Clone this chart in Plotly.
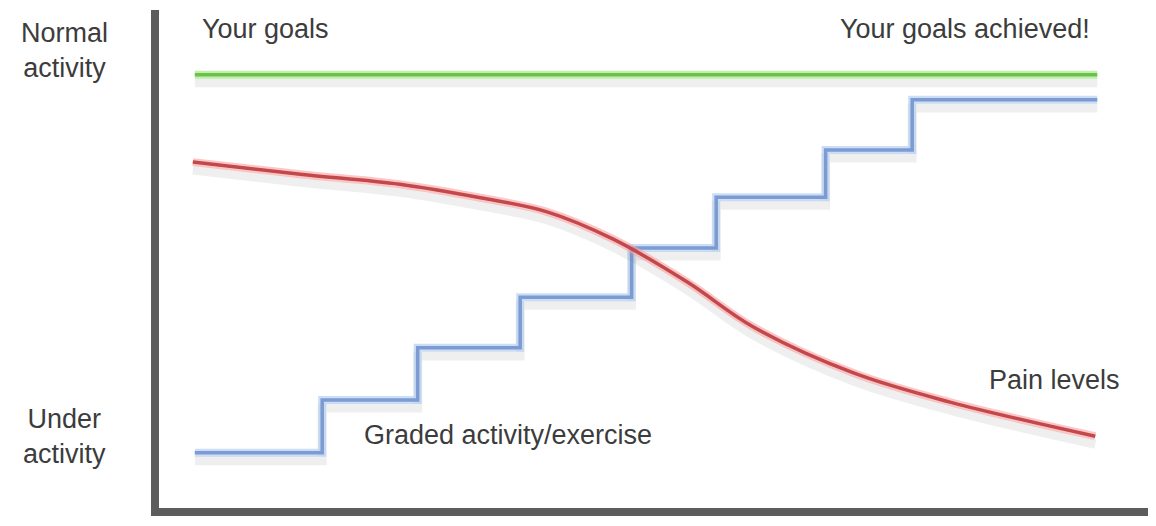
import plotly.graph_objects as go

# Data (x: time 0-100, y: activity level 0-100)
goal_x = [4.0, 94.7]
goal_y = [87.1, 87.1]

step_x = [4.0, 16.8, 26.4, 36.7, 47.9, 56.4, 67.4, 76.1, 94.7]
step_y = [11.8, 22.3, 32.7, 42.8, 52.6, 62.7, 72.1, 82.1, 82.1]

pain_x = [3.8, 14.6, 24.6, 32.7, 39.4, 46.0, 53.5, 60.1, 70.2, 79.9, 94.5]
pain_y = [69.7, 67.3, 65.3, 62.6, 59.8, 54.4, 45.8, 36.9, 27.7, 21.9, 15.1]

labels = {
    "normal": "Normal<br>activity",
    "under": "Under<br>activity",
    "goals": "Your goals",
    "achieved": "Your goals achieved!",
    "pain": "Pain levels",
    "graded": "Graded activity/exercise",
}

fig = go.Figure()

def add_line(x, y, core, halo, shape="linear"):
    # soft shadow
    fig.add_trace(go.Scatter(x=x, y=[v - 1.6 for v in y], mode="lines",
                             line=dict(color="rgba(120,120,120,0.12)", width=9, shape=shape),
                             hoverinfo="skip", showlegend=False))
    # halo
    fig.add_trace(go.Scatter(x=x, y=y, mode="lines",
                             line=dict(color=halo, width=8, shape=shape),
                             hoverinfo="skip", showlegend=False))
    # core
    fig.add_trace(go.Scatter(x=x, y=y, mode="lines",
                             line=dict(color=core, width=3.5, shape=shape),
                             showlegend=False))

add_line(goal_x, goal_y, "#6ac24a", "rgba(150,230,120,0.6)")
add_line(step_x, step_y, "#7b9bd2", "rgba(170,200,240,0.6)", shape="hv")
add_line(pain_x, pain_y, "#c2484c", "rgba(250,160,160,0.6)", shape="spline")

font = dict(family="Liberation Sans, Arial, sans-serif", size=27, color="#3c3c3c")

for a in [
    dict(x=-0.096, y=0.918, text=labels["normal"]),
    dict(x=-0.096, y=0.1426, text=labels["under"]),
]:
    fig.add_annotation(xref="paper", yref="paper", showarrow=False, font=font,
                       xanchor="center", yanchor="middle", **a)

for a in [
    dict(x=4.5, y=96.2, text=labels["goals"], xanchor="left"),
    dict(x=94.2, y=96.2, text=labels["achieved"], xanchor="right"),
    dict(x=83.6, y=26.3, text=labels["pain"], xanchor="left"),
    dict(x=20.8, y=15.3, text=labels["graded"], xanchor="left"),
]:
    fig.add_annotation(xref="x", yref="y", showarrow=False, font=font,
                       yanchor="middle", **a)

fig.update_layout(
    width=1148, height=518,
    margin=dict(l=151, r=8, t=2, b=18),
    paper_bgcolor="white", plot_bgcolor="white",
    xaxis=dict(range=[0.4, 99.8], showgrid=False, zeroline=False, showticklabels=False,
               ticks="", showline=True, linewidth=8, linecolor="#5c5c5c"),
    yaxis=dict(range=[0.8, 100], showgrid=False, zeroline=False, showticklabels=False,
               ticks="", showline=True, linewidth=8, linecolor="#5c5c5c"),
)

fig.write_html("out.html")
